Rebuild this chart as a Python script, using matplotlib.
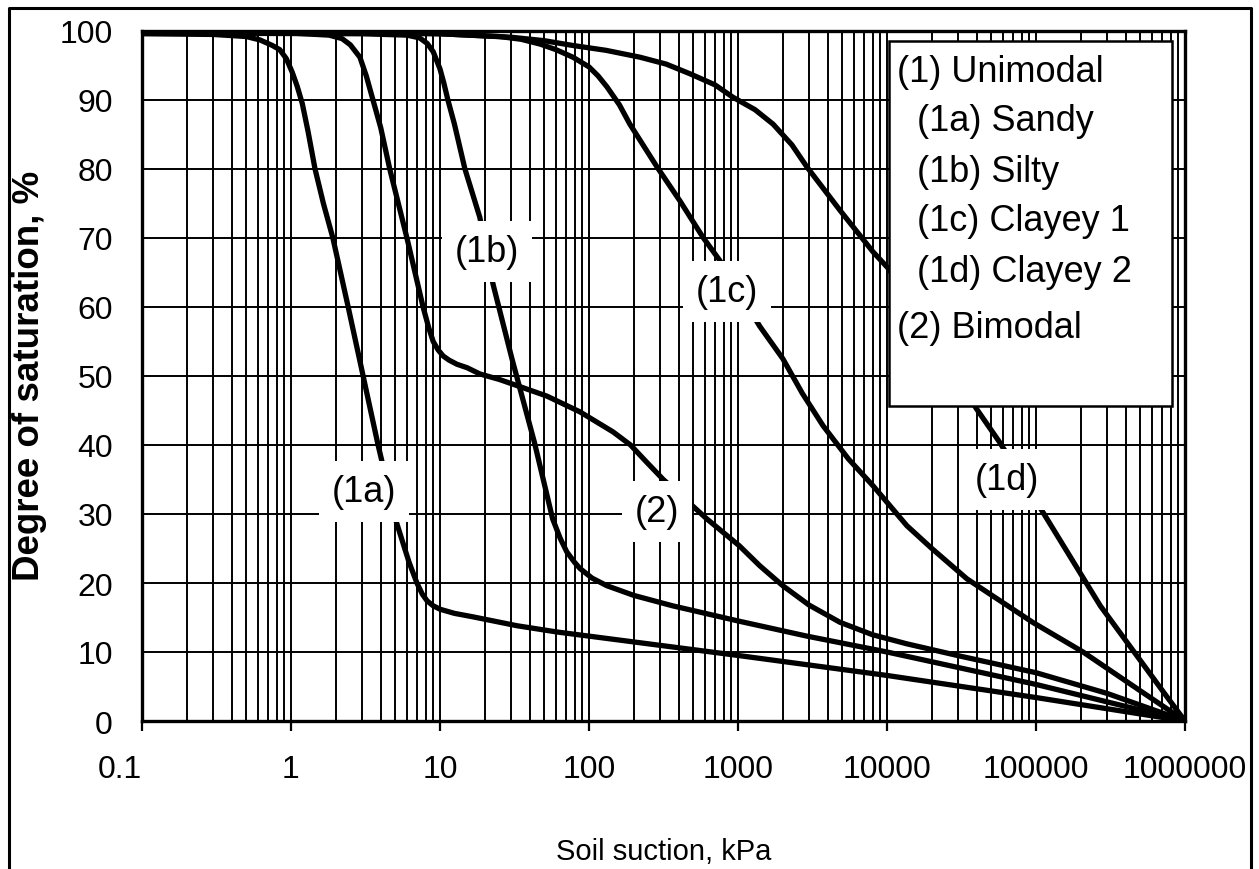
import matplotlib
matplotlib.use("Agg")
import matplotlib.pyplot as plt
from matplotlib.lines import Line2D
from matplotlib.patches import Rectangle

plt.rcParams['font.family'] = ['Liberation Sans', 'DejaVu Sans']

# soil-water characteristic curves: suction (kPa) vs degree of saturation (%)
sandy_kpa = [0.1, 0.3, 0.5, 0.62, 0.75, 0.84, 0.93, 1.02, 1.10, 1.19, 1.30, 1.45, 1.65, 1.91,
             2.42, 3.0, 3.84, 5.1, 6.2, 7.0, 7.6, 8.2, 9.0, 10, 12.5, 16.6, 33, 61, 100, 1000,
             1e4, 1e5, 1e6]
sandy_sat = [99.6, 99.5, 99.2, 98.7, 97.9, 97.3, 96.0, 94.0, 92.0, 89.5, 85.5, 80.0, 75.0, 70.0,
             60.0, 50.7, 40.0, 28.8, 23.0, 20.0, 18.4, 17.4, 16.7, 16.2, 15.6, 15.1, 13.8, 12.9,
             12.3, 9.5, 6.6, 3.4, 0.0]

silty_kpa = [0.1, 3, 6, 7.3, 8.2, 9.0, 10.0, 10.6, 11.3, 12.5, 14.7, 18.5, 22.7, 30.4, 43, 57,
             64, 71, 80, 87, 105, 132, 200, 363, 1000, 2900, 1e4, 1e5, 1e6]
silty_sat = [99.7, 99.6, 99.4, 99.0, 98.2, 97.0, 94.5, 92.5, 90.0, 86.5, 80.0, 73.0, 63.3, 52.5,
             40.4, 29.3, 26.5, 24.5, 23.0, 22.1, 20.7, 19.6, 18.2, 16.7, 14.5, 12.3, 10.0, 5.3,
             0.0]

clayey1_kpa = [0.1, 10, 25, 35, 47, 60, 78, 100, 115, 132, 160, 188, 286, 407, 582, 757, 1400,
               2000, 2700, 3720, 5500, 8050, 13600, 20000, 34400, 95000, 207000, 447000, 1e6]
clayey1_sat = [99.8, 99.6, 99.2, 98.8, 98.1, 97.3, 96.2, 94.8, 93.5, 91.9, 89.3, 86.5, 80.3,
               75.4, 70.1, 66.7, 57.2, 52.5, 47.5, 42.8, 38.0, 34.1, 28.3, 25.0, 20.6, 14.3, 10.0,
               5.1, 0.0]

clayey2_kpa = [0.1, 5, 10, 30, 50, 78, 130, 220, 330, 476, 700, 925, 1300, 1720, 2300, 2900,
               4840, 8050, 10300, 40000, 57000, 106000, 270000, 757000, 1e6]
clayey2_sat = [99.9, 99.8, 99.6, 99.1, 98.6, 97.9, 97.2, 96.2, 95.2, 93.8, 92.2, 90.4, 88.6,
               86.5, 83.5, 80.3, 74.0, 68.0, 65.5, 45.2, 40.4, 31.0, 16.7, 3.5, 0.0]

bimodal_kpa = [0.1, 1, 1.8, 2.2, 2.5, 2.9, 3.2, 3.55, 4.0, 4.6, 6.0, 7.7, 8.4, 9.0, 9.7, 10.5,
               11.5, 13, 15.2, 18.5, 25, 31, 52, 87, 145, 190, 244, 315, 450, 617, 1020, 1400,
               2000, 3000, 4840, 8000, 13500, 31000, 1e5, 3e5, 1e6]
bimodal_sat = [99.8, 99.7, 99.4, 98.9, 98.0, 96.2, 93.5, 90.0, 86.0, 80.0, 70.0, 60.0, 57.0,
               55.0, 53.8, 52.9, 52.3, 51.7, 51.2, 50.3, 49.5, 48.8, 47.1, 44.8, 41.9, 40.0, 37.5,
               35.0, 32.0, 29.3, 25.4, 22.5, 19.6, 16.8, 14.3, 12.5, 11.2, 9.4, 7.0, 4.0, 0.0]

curves = [(sandy_kpa, sandy_sat), (silty_kpa, silty_sat), (clayey1_kpa, clayey1_sat),
          (clayey2_kpa, clayey2_sat), (bimodal_kpa, bimodal_sat)]

# in-plot curve tags (position in data coords)
tag_text = ['(1a)', '(1b)', '(1c)', '(1d)', '(2)']
tag_x = [3.09, 20.6, 843, 63800, 286]
tag_y = [33.3, 68.0, 62.3, 35.0, 30.4]

legend_lines = ['(1) Unimodal', '(1a) Sandy', '(1b) Silty', '(1c) Clayey 1', '(1d) Clayey 2',
                '(2) Bimodal']
legend_indent = [False, True, True, True, True, False]

xticks = [0.1, 1, 10, 100, 1000, 10000, 100000, 1000000]
xtick_labels = ['0.1', '1', '10', '100', '1000', '10000', '100000', '1000000']
yticks = list(range(0, 101, 10))

W, H = 1259, 870
fig = plt.figure(figsize=(W / 100, H / 100), dpi=100)
ax = fig.add_axes([142 / W, 1 - 722 / H, 1043 / W, 690 / H])

for xs, ys in curves:
    ax.plot(xs, ys, color='black', lw=3.8, solid_capstyle='butt',
            solid_joinstyle='round', zorder=3)

ax.set_xscale('log')
ax.set_xlim(0.1, 1e6)
ax.set_ylim(0, 100)
ax.set_xticks(xticks)
ax.set_xticklabels(xtick_labels)
ax.set_yticks(yticks)
ax.xaxis.set_minor_formatter(plt.NullFormatter())

ax.set_axisbelow(True)
ax.grid(True, which='both', axis='x', color='black', lw=1.4)
ax.grid(True, which='major', axis='y', color='black', lw=1.4)
ax.tick_params(axis='x', which='major', length=7, width=1.6, pad=17, labelsize=23)
ax.tick_params(axis='x', which='minor', length=0)
ax.tick_params(axis='y', length=0, pad=21, labelsize=23)
# first label sits left of its tick
ax.get_xticklabels()[0].set_ha('right')
for sp in ax.spines.values():
    sp.set_linewidth(2.4)

for t, x, y in zip(tag_text, tag_x, tag_y):
    ax.text(x, y, t, fontsize=26, ha='center', va='center', zorder=6,
            bbox=dict(boxstyle='square,pad=0.36', fc='white', ec='none'))

# text legend box
ax.add_patch(Rectangle((0.716, 0.4565), 0.2715, 0.529, transform=ax.transAxes,
                       fc='white', ec='black', lw=1.8, zorder=7))
leg_y = [0.9406, 0.871, 0.797, 0.725, 0.651, 0.571]
for s, ind, y in zip(legend_lines, legend_indent, leg_y):
    ax.text(0.743 if ind else 0.724, y, s, transform=ax.transAxes, fontsize=26,
            ha='left', va='center', zorder=8)

fig.text(664 / W, 1 - 852 / H, 'Soil suction, kPa', fontsize=21, ha='center', va='center')
fig.text(30 / W, 1 - 376 / H, 'Degree of saturation, %', fontsize=26.5, fontweight='bold',
         rotation=90, ha='center', va='center')

# outer frame
fig.add_artist(Line2D([9 / W, 9 / W, 1251 / W, 1251 / W], [0, 1 - 9 / H, 1 - 9 / H, 0],
                      transform=fig.transFigure, color='black', lw=2.2))

fig.savefig('out.png', dpi=100)
